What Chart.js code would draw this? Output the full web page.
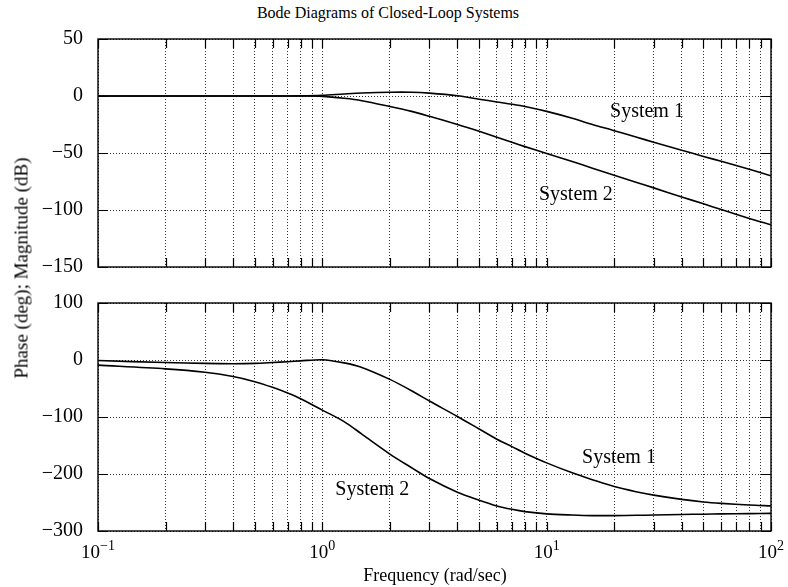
<!DOCTYPE html>
<html>
<head>
<meta charset="utf-8">
<script src="https://cdn.jsdelivr.net/npm/chart.js@4.4.0/dist/chart.umd.min.js"></script>
<style>
  body { margin:0; background:#fff; width:788px; height:587px; position:relative; overflow:hidden; font-family:"Liberation Serif", serif; }
  canvas { position:absolute; left:0; }
  #magChart { top:0; }
  #phaseChart { top:260px; }
  .txt { position:absolute; color:#000; white-space:nowrap; line-height:1; }
  #title { left:388px; top:5px; font-size:16px; transform:translateX(-50%); }
  #xTitle { left:435px; top:566px; font-size:18px; transform:translateX(-50%); }
  #yTitle { left:21px; top:268px; font-size:19px; transform:translate(-50%,-50%) rotate(-90deg); }
</style>
</head>
<body>
<div class="txt" id="title">Bode Diagrams of Closed-Loop Systems</div>
<canvas id="magChart" width="788" height="300"></canvas>
<canvas id="phaseChart" width="788" height="327"></canvas>
<div class="txt" id="xTitle">Frequency (rad/sec)</div>
<div class="txt" id="yTitle">Phase (deg); Magnitude (dB)</div>
<script>
const freq = [0.1, 0.2, 0.3, 0.4, 0.5, 0.6, 0.7, 0.8, 1.0, 1.25, 1.5, 2, 2.5, 3, 4, 5, 6, 7, 8, 10, 13, 16, 20, 25, 30, 40, 50, 60, 80, 100];
// magnitude (dB)
const magSys1 = [0, 0, 0, 0, 0, 0, 0, 0.1, 0.7, 1.8, 2.6, 3.3, 3.3, 2.5, 0.2, -2.8, -5.2, -7.2, -9.2, -13.5, -19.5, -25, -30.4, -36, -40.5, -47.5, -53, -57.3, -64.2, -70];
const magSys2 = [0, 0, 0, 0, 0, 0, 0, 0, -0.3, -2, -4.1, -9.2, -13.5, -17.8, -25, -31, -36.2, -40.6, -44.4, -50.5, -57.5, -63.3, -69.5, -75.6, -80.6, -88.5, -94.6, -99.6, -107.4, -113];
// phase (deg)
const phaseSys1 = [-1, -4.5, -6, -6.5, -6, -4.5, -3, -1.5, 0.5, -5, -13, -34, -54, -72, -99, -121, -139, -152, -163.5, -180.5, -198, -210, -222, -231, -237, -244.5, -249, -251.5, -254.5, -256];
const phaseSys2 = [-9, -15.5, -21.5, -29, -38, -48, -58, -68, -88, -108, -130, -165, -189, -208, -232, -246, -256, -262, -266, -270, -272, -273, -273, -272.5, -272, -271, -270.5, -270, -269.5, -269];

const freqTicks = [0.1,0.2,0.3,0.4,0.5,0.6,0.7,0.8,0.9, 1,2,3,4,5,6,7,8,9, 10,20,30,40,50,60,70,80,90, 100];
const decadeTicks = [0.1, 1, 10, 100];
const decadeExp = ['\u22121', '0', '1', '2'];
const magTicks = [-150, -100, -50, 0, 50];
const phaseTicks = [-300, -200, -100, 0, 100];

const serif = '"Liberation Serif", "Times New Roman", serif';

function pts(ys) { return freq.map((f, i) => ({ x: f, y: ys[i] })); }
function line(ys) {
  return { data: pts(ys), borderColor: '#000', borderWidth: 1.6, pointRadius: 0, fill: false, tension: 0.3 };
}

// box, inward tick marks, curve names and decade labels
const boxPlugin = {
  id: 'boxPlugin',
  afterDraw(chart, args, opts) {
    const { ctx, chartArea: a, scales: { x, y } } = chart;
    ctx.save();
    ctx.strokeStyle = '#000';
    ctx.lineWidth = 1.2;
    ctx.beginPath();
    x.ticks.forEach(t => {
      const px = Math.round(x.getPixelForValue(t.value)) + 0.5;
      ctx.moveTo(px, a.top); ctx.lineTo(px, a.top + 9);
      ctx.moveTo(px, a.bottom); ctx.lineTo(px, a.bottom - 9);
    });
    y.ticks.forEach(t => {
      const py = Math.round(y.getPixelForValue(t.value)) + 0.5;
      ctx.moveTo(a.left, py); ctx.lineTo(a.left + 10, py);
      ctx.moveTo(a.right, py); ctx.lineTo(a.right - 10, py);
    });
    ctx.stroke();
    ctx.lineWidth = 1.4;
    ctx.strokeRect(a.left, a.top, a.width, a.height);

    ctx.fillStyle = '#000';
    ctx.textAlign = 'center';
    ctx.textBaseline = 'middle';
    ctx.font = '20px ' + serif;
    (opts.notes || []).forEach(n => {
      ctx.fillText(n.text, x.getPixelForValue(n.f), y.getPixelForValue(n.v));
    });

    if (opts.decades) {
      ctx.textAlign = 'left';
      ctx.textBaseline = 'alphabetic';
      decadeTicks.forEach((d, i) => {
        ctx.font = '19px ' + serif;
        const wb = ctx.measureText('10').width;
        ctx.font = '14px ' + serif;
        const we = ctx.measureText(decadeExp[i]).width;
        const x0 = x.getPixelForValue(d) - (wb + we) / 2;
        ctx.font = '19px ' + serif;
        ctx.fillText('10', x0, a.bottom + 27);
        ctx.font = '14px ' + serif;
        ctx.fillText(decadeExp[i], x0 + wb, a.bottom + 19);
      });
    }
    ctx.restore();
  }
};

function makeChart(id, sets, yTicks, padTop, padBottom, notes, decades) {
  return new Chart(document.getElementById(id), {
    type: 'line',
    data: { datasets: sets },
    plugins: [boxPlugin],
    options: {
      responsive: false,
      animation: false,
      events: [],
      layout: { padding: { top: padTop, bottom: padBottom, left: 0, right: 17 } },
      plugins: {
        legend: { display: false },
        tooltip: { enabled: false },
        boxPlugin: { notes: notes, decades: decades }
      },
      scales: {
        x: {
          type: 'logarithmic',
          min: 0.1, max: 100,
          afterBuildTicks: s => { s.ticks = freqTicks.map(v => ({ value: v })); },
          afterFit: s => { s.height = 0; },
          ticks: { display: false },
          grid: { color: '#333', lineWidth: 1, drawTicks: false },
          border: { display: false, dash: [1, 2] }
        },
        y: {
          min: yTicks[0], max: yTicks[yTicks.length - 1],
          afterBuildTicks: s => { s.ticks = yTicks.map(v => ({ value: v })); },
          afterFit: s => { s.width = 98; },
          ticks: {
            color: '#000', padding: 15,
            font: { family: serif, size: 20, lineHeight: 1 },
            callback: v => String(v).replace('-', '\u2212')
          },
          grid: { color: '#333', lineWidth: 1, drawTicks: false },
          border: { display: false, dash: [1, 2] }
        }
      }
    }
  });
}

makeChart('magChart', [line(magSys1), line(magSys2)], magTicks, 39, 33,
  [{ text: 'System 1', f: 28, v: -14 }, { text: 'System 2', f: 13.5, v: -87 }], false);
makeChart('phaseChart', [line(phaseSys1), line(phaseSys2)], phaseTicks, 43, 56,
  [{ text: 'System 1', f: 21, v: -172 }, { text: 'System 2', f: 1.67, v: -228 }], true);
</script>
</body>
</html>
